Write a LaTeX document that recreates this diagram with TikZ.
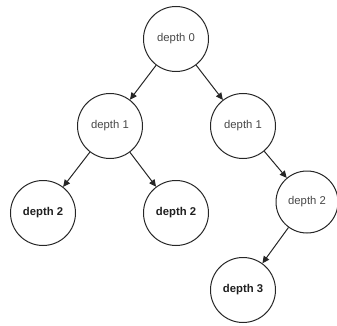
\documentclass[tikz,border=0pt]{standalone}
\usepackage{fontspec}
\setmainfont{Liberation Sans}
\usetikzlibrary{arrows.meta}
\begin{document}
\begin{tikzpicture}[x=1pt,y=-1pt,
  tnode/.style={circle,draw=black!85,line width=1pt,minimum size=65pt,inner sep=0pt,font=\fontsize{11.3}{13}\selectfont,text=black!72},
  tbold/.style={tnode,font=\fontsize{11.3}{13}\selectfont\bfseries,text=black!88},
  edge/.style={draw=black!85,line width=1pt,-{Triangle[length=7pt,width=6.5pt]}}]
\useasboundingbox (0,0) rectangle (337,326);
\node[tnode] (r)   at (176,39)  {depth 0};
\node[tnode] (a)   at (110,126) {depth 1};
\node[tnode] (b)   at (243,126) {depth 1};
\node[tbold] (aa)  at (43,213)  {depth 2};
\node[tbold] (ab)  at (176,213) {depth 2};
\node[tnode,minimum size=62pt] (ba) at (307,202) {depth 2};
\node[tbold] (baa) at (243,290) {depth 3};
\draw[edge] (r) -- (a);
\draw[edge] (r) -- (b);
\draw[edge] (a) -- (aa);
\draw[edge] (a) -- (ab);
\draw[edge] (b) -- (ba);
\draw[edge] (ba) -- (baa);
\end{tikzpicture}
\end{document}
